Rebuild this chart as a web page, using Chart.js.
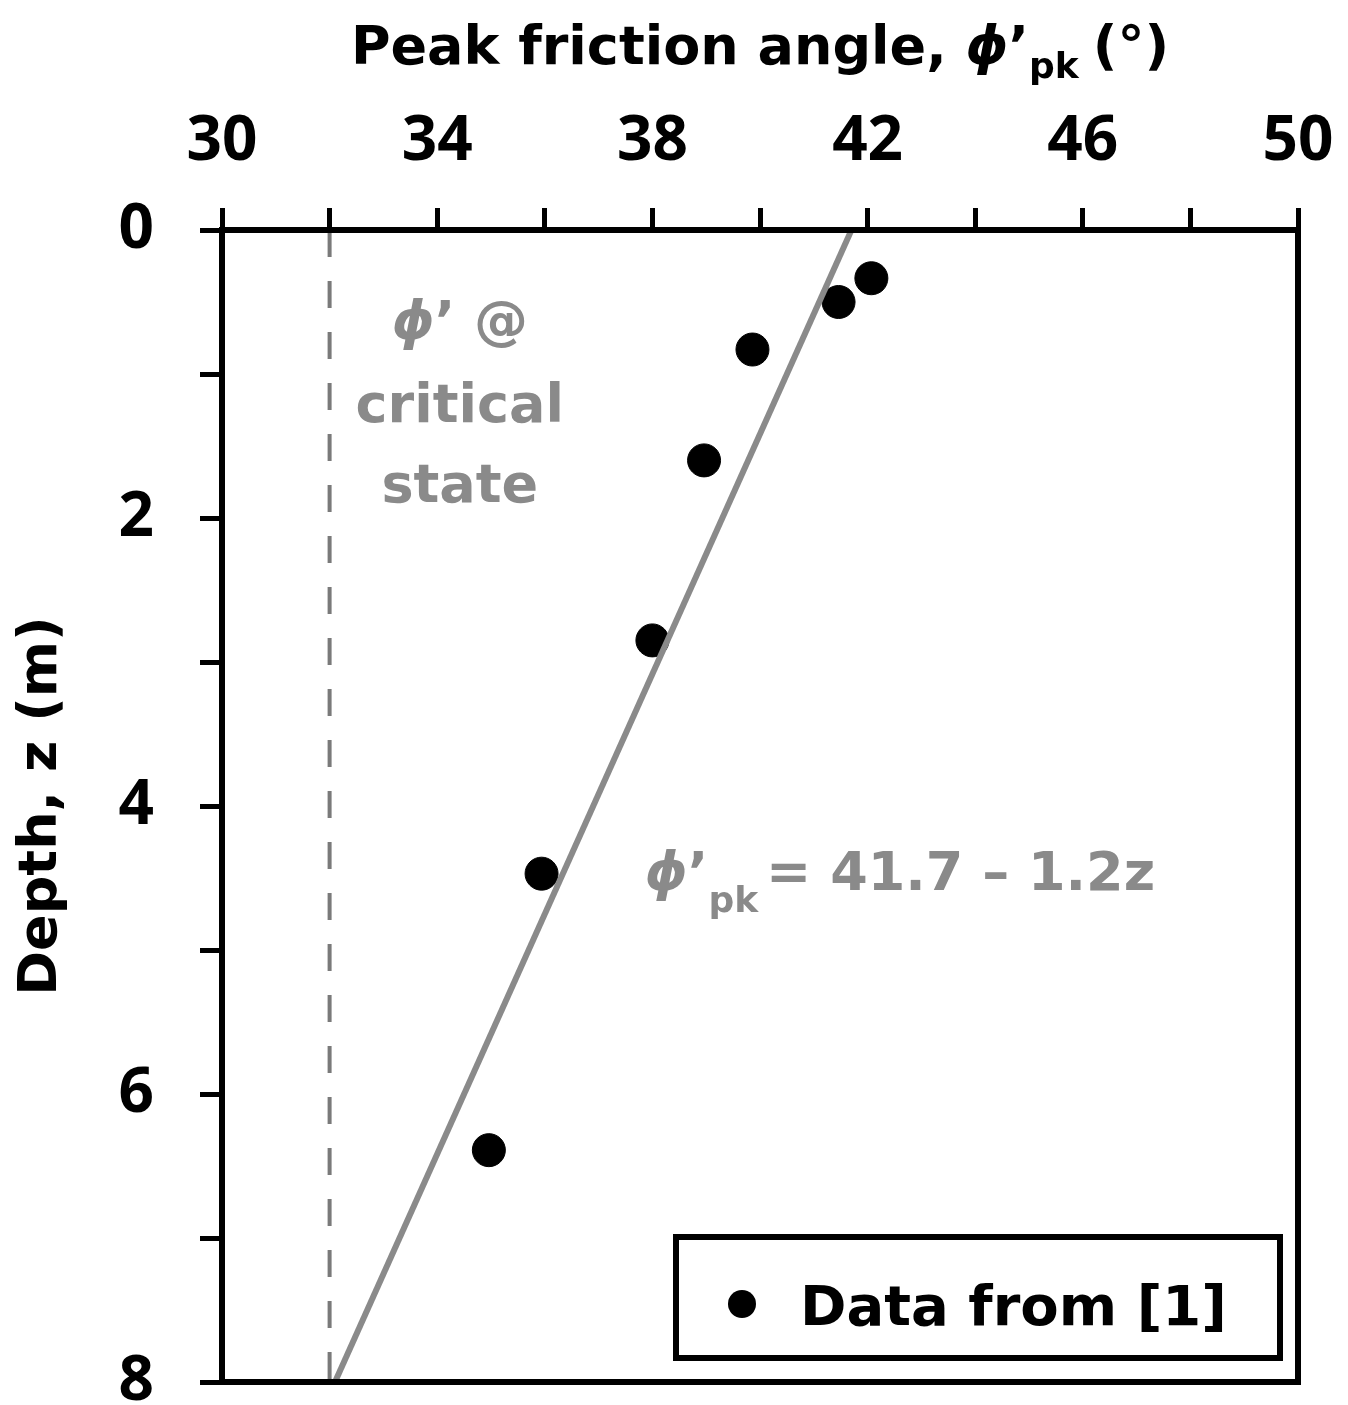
<!DOCTYPE html>
<html>
<head>
<meta charset="utf-8">
<script src="https://cdn.jsdelivr.net/npm/chart.js@4.4.0/dist/chart.umd.min.js"></script>
<style>
html,body{margin:0;padding:0;background:#fff;}
#wrap{width:1348px;height:1405px;}
</style>
</head>
<body>
<div id="wrap"><canvas id="chart" width="1348" height="1405"></canvas></div>
<script>
// measured peak friction angle (deg) vs depth (m), data from [1]
const phiPk = [42.07, 41.46, 39.86, 38.96, 38.0, 35.94, 34.96];
const depth = [0.335, 0.50, 0.83, 1.60, 2.85, 4.47, 6.39];
// fitted trend end points: phi'pk = 41.7 - 1.2z
const fitPhi = [41.7, 32.1];
const fitZ = [0, 8];
// critical state friction angle
const critPhi = [32, 32];
const critZ = [0, 8];
// axis ticks
const xMin = 30, xMax = 50, xStep = 2, xLabelEvery = 4;
const yMin = 0, yMax = 8, yStep = 1, yLabelEvery = 2;

const NUMFONT = "'Open Sans'";
const FONT = "'DejaVu Sans'";
const GREY = "#8a8a8a";

const pts = (xs, ys) => xs.map((x, i) => ({x: x, y: ys[i]}));

// draw a run of text pieces (for subscripts / italics)
function drawRuns(ctx, runs, x, y, align){
  let total = 0;
  runs.forEach(r => { ctx.font = r.font; r.w = ctx.measureText(r.t).width; total += r.w + (r.gap || 0); });
  let cx = align === "center" ? x - total/2 : x;
  runs.forEach(r => {
    ctx.font = r.font;
    ctx.fillText(r.t, cx, y + (r.dy || 0));
    cx += r.w + (r.gap || 0);
  });
}

const extras = {
  id: "extras",
  afterDraw(c){
    const ctx = c.ctx, a = c.chartArea;
    const xs = c.scales.x, ys = c.scales.y;
    ctx.save();
    // plot frame
    ctx.strokeStyle = "#000";
    ctx.lineWidth = 6;
    ctx.strokeRect(a.left, a.top, a.right - a.left, a.bottom - a.top);

    ctx.textBaseline = "alphabetic";
    ctx.textAlign = "left";
    // x axis title
    ctx.fillStyle = "#000";
    drawRuns(ctx, [
      {t: "Peak friction angle, ", font: `bold 54px ${FONT}`},
      {t: "\u03D5", font: `italic bold 54px ${FONT}`},
      {t: "\u2019", font: `bold 54px ${FONT}`},
      {t: "pk", font: `bold 36px ${FONT}`, dy: 14, gap: 14},
      {t: "(\u00B0)", font: `bold 54px ${FONT}`}
    ], (a.left + a.right)/2, 64, "center");

    // critical state note
    ctx.fillStyle = GREY;
    const cxp = xs.getPixelForValue(34.42);
    drawRuns(ctx, [
      {t: "\u03D5", font: `italic bold 54px ${FONT}`},
      {t: "\u2019 @", font: `bold 54px ${FONT}`}
    ], cxp, ys.getPixelForValue(0.76), "center");
    ctx.textAlign = "center";
    ctx.font = `bold 54px ${FONT}`;
    ctx.fillText("critical", cxp, ys.getPixelForValue(1.33));
    ctx.fillText("state", cxp, ys.getPixelForValue(1.89));
    ctx.textAlign = "left";

    // fit equation
    drawRuns(ctx, [
      {t: "\u03D5", font: `italic bold 54px ${FONT}`},
      {t: "\u2019", font: `bold 54px ${FONT}`},
      {t: "pk", font: `bold 36px ${FONT}`, dy: 22, gap: 8},
      {t: "= 41.7 \u2013 1.2z", font: `bold 54px ${FONT}`}
    ], xs.getPixelForValue(37.86), ys.getPixelForValue(4.58), "left");

    // legend box
    const bw = 604, bh = 121;
    const bx = a.right - 18 - bw, by = a.bottom - 24 - bh;
    ctx.fillStyle = "#fff";
    ctx.fillRect(bx, by, bw, bh);
    ctx.lineWidth = 6;
    ctx.strokeStyle = "#000";
    ctx.strokeRect(bx, by, bw, bh);
    ctx.fillStyle = "#000";
    ctx.beginPath();
    ctx.arc(bx + 66, by + 67, 14, 0, Math.PI*2);
    ctx.fill();
    ctx.font = `bold 56px ${FONT}`;
    ctx.fillText("Data from [1]", bx + 124, by + 88);
    ctx.restore();
  }
};

function draw(){
  new Chart(document.getElementById("chart"), {
    type: "scatter",
    data: {
      datasets: [
        {label: "Data from [1]", data: pts(phiPk, depth), backgroundColor: "#000", borderColor: "#000",
         pointRadius: 16.5, pointHoverRadius: 16.5, order: 3},
        {label: "Fit", data: pts(fitPhi, fitZ), showLine: true, borderColor: GREY, borderWidth: 6,
         pointRadius: 0, order: 1},
        {label: "Critical state", data: pts(critPhi, critZ), showLine: true, borderColor: "#7a7a7a", borderWidth: 4,
         borderDash: [27, 24], pointRadius: 0, order: 2}
      ]
    },
    options: {
      responsive: false,
      animation: false,
      devicePixelRatio: 1,
      layout: {padding: {left: 0, top: 0, right: 50, bottom: 23}},
      plugins: {legend: {display: false}, tooltip: {enabled: false}},
      scales: {
        x: {
          type: "linear", position: "top", min: xMin, max: xMax,
          afterFit: s => { s.height = 230; s.paddingLeft = 0; s.paddingRight = 0; },
          ticks: {
            stepSize: xStep, autoSkip: false, padding: 28, color: "#000",
            font: {family: NUMFONT, size: 62, weight: 700},
            callback: v => ((v - xMin) % xLabelEvery === 0 ? String(v) : "")
          },
          grid: {drawOnChartArea: false, drawTicks: true, tickLength: 22, tickWidth: 5, tickColor: "#000"},
          border: {display: true, color: "#000", width: 6}
        },
        y: {
          type: "linear", reverse: true, min: yMin, max: yMax,
          afterFit: s => { s.width = 222; s.paddingTop = 0; s.paddingBottom = 0; },
          title: {display: true, text: "Depth, z (m)", color: "#000", padding: {top: 10, bottom: 0},
                  font: {family: "DejaVu Sans", size: 54, weight: "bold"}},
          ticks: {
            stepSize: yStep, autoSkip: false, padding: 46, color: "#000",
            font: {family: NUMFONT, size: 62, weight: 700},
            callback: v => (v % yLabelEvery === 0 ? String(v) : "")
          },
          grid: {drawOnChartArea: false, drawTicks: true, tickLength: 22, tickWidth: 5, tickColor: "#000"},
          border: {display: true, color: "#000", width: 6}
        }
      }
    },
    plugins: [extras]
  });
}

Promise.all([
  document.fonts.load("700 62px 'Open Sans'"),
  document.fonts.load("bold 54px 'DejaVu Sans'"),
  document.fonts.load("italic bold 54px 'DejaVu Sans'")
]).then(draw, draw);
</script>
</body>
</html>
